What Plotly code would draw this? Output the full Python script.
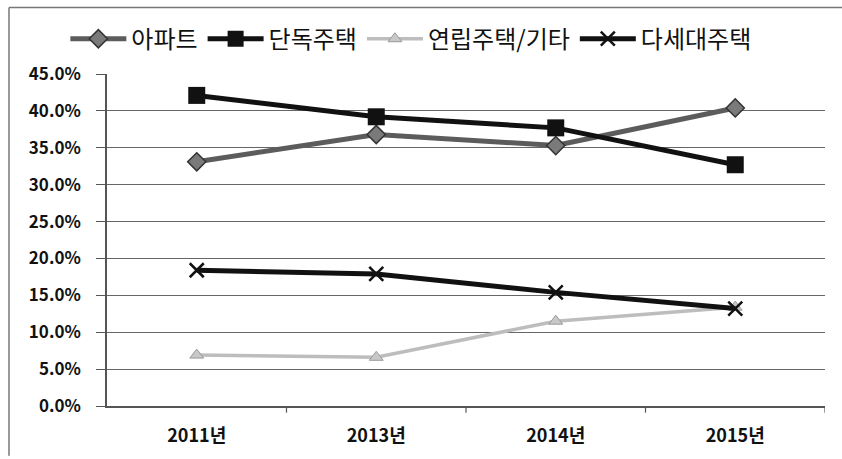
import plotly.graph_objects as go

years = ["2011년", "2013년", "2014년", "2015년"]
apt = [33.1, 36.8, 35.3, 40.4]
detached = [42.1, 39.2, 37.7, 32.7]
rowhouse = [6.9, 6.6, 11.5, 13.4]
multi = [18.4, 17.9, 15.4, 13.2]
y_ticks = [0, 5, 10, 15, 20, 25, 30, 35, 40, 45]

FONT = "Noto Sans CJK KR"

fig = go.Figure()
fig.add_trace(go.Scatter(
    x=years, y=apt, name="아파트", mode="lines+markers",
    line=dict(color="#5c5c5c", width=5),
    marker=dict(symbol="diamond", size=14, color="#7a7a7a",
                line=dict(color="#333333", width=1.5)),
))
fig.add_trace(go.Scatter(
    x=years, y=detached, name="단독주택", mode="lines+markers",
    line=dict(color="#111111", width=5),
    marker=dict(symbol="square", size=17, color="#111111"),
))
fig.add_trace(go.Scatter(
    x=years, y=rowhouse, name="연립주택/기타", mode="lines+markers",
    line=dict(color="#bdbdbd", width=3.5),
    marker=dict(symbol="triangle-up", size=12, color="#c8c8c8",
                line=dict(color="#9a9a9a", width=1)),
))
fig.add_trace(go.Scatter(
    x=years, y=multi, name="다세대주택", mode="lines+markers",
    line=dict(color="#111111", width=5),
    marker=dict(symbol="x-thin", size=14, color="#111111",
                line=dict(color="#111111", width=2.5)),
))

fig.update_layout(
    width=842, height=459,
    margin=dict(l=107, r=17, t=74, b=50),
    paper_bgcolor="white", plot_bgcolor="white",
    font=dict(family=FONT, color="#111111"),
    showlegend=True,
    legend=dict(orientation="h", x=-0.058, xanchor="left", y=1.105, yanchor="middle",
                font=dict(size=24, family=FONT, color="#111111"),
                itemwidth=56, bgcolor="rgba(0,0,0,0)"),
    xaxis=dict(
        range=[-0.5, 3.5],
        showgrid=False, showline=True, linecolor="#555555", linewidth=1.5,
        ticks="", ticklabelstandoff=13,
        tickfont=dict(size=18, family=FONT, color="#111111", weight="bold"),
    ),
    yaxis=dict(
        range=[0, 45], tickvals=y_ticks,
        ticktext=[f"{v:.1f}%" for v in y_ticks],
        showgrid=True, gridcolor="#666666", gridwidth=1.2,
        showline=True, linecolor="#555555", linewidth=1.5,
        ticks="outside", ticklen=9, tickcolor="#555555", ticklabelstandoff=12,
        tickfont=dict(size=17, family=FONT, color="#111111", weight="bold"),
        zeroline=False,
    ),
    shapes=[
        dict(type="line", xref="paper", yref="paper", x0=-0.1365, x1=-0.1365, y0=-0.15, y1=1.2,
             line=dict(color="#777777", width=1.5)),
        dict(type="line", xref="paper", yref="paper", x0=-0.1365, x1=1.03, y0=1.2, y1=1.2,
             line=dict(color="#777777", width=1.5)),
    ],
)

# category boundary ticks on the x axis
for i in range(1, len(years) + 1):
    fig.add_shape(type="line", xref="x", yref="paper", x0=i - 0.5, x1=i - 0.5,
                  y0=0, y1=-0.02, line=dict(color="#555555", width=1.2))

fig.write_html("out.html", config={"displayModeBar": False},
               post_script="document.body.style.margin='0';")
